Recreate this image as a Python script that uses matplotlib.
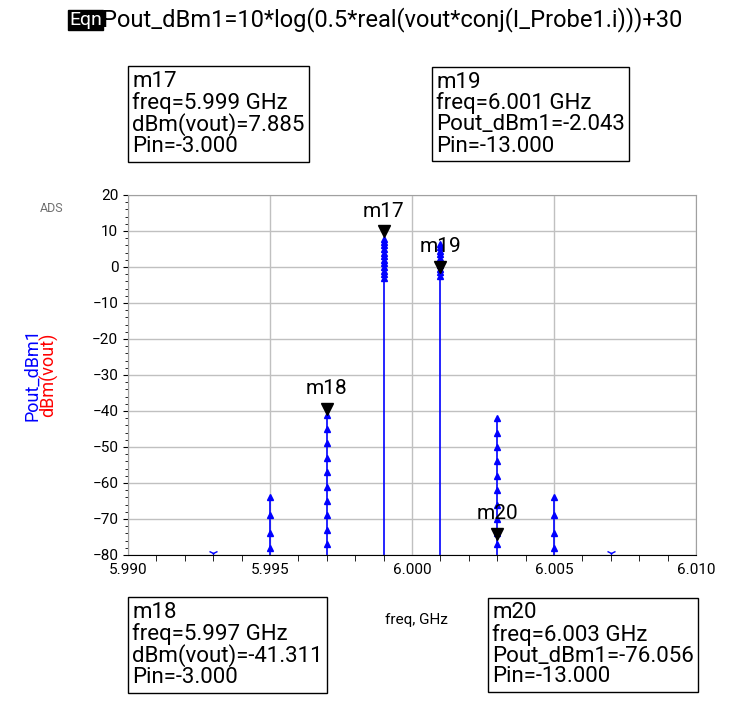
import matplotlib
matplotlib.use("Agg")
import matplotlib.pyplot as plt
import numpy as np

plt.rcParams["font.family"] = ["Roboto", "DejaVu Sans"]

freqs = [5.993, 5.995, 5.997, 5.999, 6.001, 6.003, 6.005, 6.007]
levels = [
    [-80.5],
    [-64, -69, -74, -78],
    [-41, -45, -49, -53, -57, -61, -65, -69, -73, -77],
    [7.9, 7, 6, 5, 4, 3, 2, 1, 0, -1, -2, -3],
    [6.5, 5.5, 4.5, 3.5, 2.5, 1.5, 0.5, -0.5, -1.5, -2.5],
    [-42, -46, -50, -54, -58, -62, -66, -70, -74, -77],
    [-64, -69, -74, -78],
    [-80.5],
]
markers = [("m17", 5.999, 7.885), ("m19", 6.001, -2.043),
           ("m18", 5.997, -41.311), ("m20", 6.003, -76.056)]

fig = plt.figure(figsize=(7.42, 7.18), dpi=100)
ax = fig.add_axes([128/742, 1-555/718, (696-128)/742, (555-195)/718])
blue = "#0000ff"
for f, lv in zip(freqs, levels):
    top = max(lv)
    if top > -80:
        ax.plot([f, f], [-80, top], color=blue, lw=1.2)
        ax.plot([f]*len(lv), lv, ls="none", marker="^", ms=4, color=blue)
    else:
        ax.plot([f], [-79.5], ls="none", marker="1", ms=7, color=blue)
for name, f, v in markers:
    ax.plot([f], [v + 2], marker="v", ms=9, color="black", ls="none")
    ax.text(f, v + 5, name, ha="center", va="bottom", fontsize=15)

ax.set_xlim(5.990, 6.010)
ax.set_ylim(-80, 20)
ax.set_xticks([5.990, 5.995, 6.000, 6.005, 6.010])
ax.set_xticklabels(["5.990", "5.995", "6.000", "6.005", "6.010"])
ax.set_xticks(np.arange(5.990, 6.0101, 0.001), minor=True)
ax.set_yticks(np.arange(-80, 21, 10))
ax.set_yticks(np.arange(-80, 21, 2), minor=True)
ax.grid(True, which="major", color="#c0c0c0", lw=1)
ax.tick_params(labelsize=11, direction="out")
ax.tick_params(axis="x", which="major", length=0, pad=6)
ax.tick_params(axis="x", which="minor", length=4)
for s in ["top", "right", "left"]:
    ax.spines[s].set_color("#a0a0a0")

fig.text(40/742, 1-212/718, "ADS", fontsize=9, color="#707070", ha="left")
fig.text(32/742, 1-375/718, "Pout_dBm1", rotation=90, color=blue, fontsize=13, ha="center", va="center")
fig.text(49/742, 1-375/718, "dBm(vout)", rotation=90, color="red", fontsize=13, ha="center", va="center")
fig.text(416/742, 1-620/718, "freq, GHz", fontsize=11, ha="center", va="center")

fig.text(69/742, 1-20/718, "Eqn", fontsize=14, color="white", va="center",
         bbox=dict(facecolor="black", edgecolor="black", pad=1))
fig.text(102/742, 1-20/718, "Pout_dBm1=10*log(0.5*real(vout*conj(I_Probe1.i)))+30", fontsize=17, va="center")

boxes = [
    (132, 114, "m17\nfreq=5.999 GHz\ndBm(vout)=7.885\nPin=-3.000"),
    (436, 114, "m19\nfreq=6.001 GHz\nPout_dBm1=-2.043\nPin=-13.000"),
    (132, 645, "m18\nfreq=5.997 GHz\ndBm(vout)=-41.311\nPin=-3.000"),
    (492, 645, "m20\nfreq=6.003 GHz\nPout_dBm1=-76.056\nPin=-13.000"),
]
for x, y, t in boxes:
    fig.text(x/742, 1-y/718, t, fontsize=16, va="center", ha="left", linespacing=1.0,
             bbox=dict(facecolor="white", edgecolor="black", lw=1, pad=3))

fig.savefig("out.png", dpi=100)
